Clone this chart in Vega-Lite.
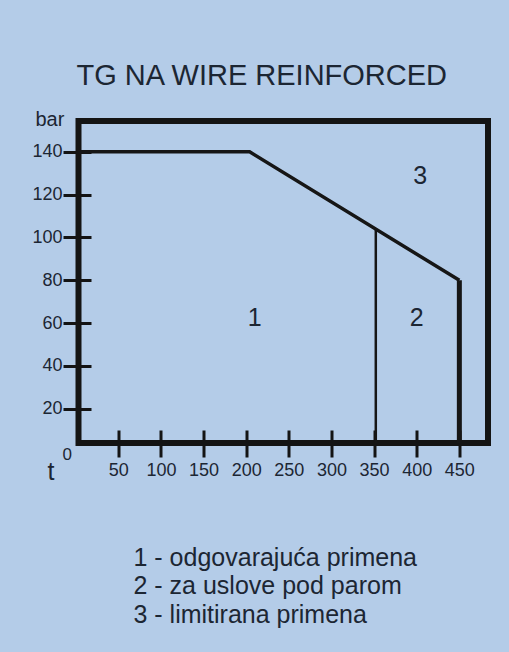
{
  "$schema": "https://vega.github.io/schema/vega-lite/v6.json",
  "width": 409.5,
  "height": 322,
  "autosize": {"type": "none"},
  "padding": {"left": 78.5, "top": 121, "right": 21, "bottom": 209},
  "background": "#b4cce8",
  "view": {"stroke": "#141414", "strokeWidth": 6},
  "config": {
    "font": "Liberation Sans",
    "axis": {"grid": false, "domain": false, "labelColor": "#1c2633", "titleColor": "#1c2633", "tickColor": "#141414", "labelFont": "Liberation Sans", "titleFont": "Liberation Sans"}
  },
  "title": {
    "text": "TG NA WIRE REINFORCED",
    "fontSize": 29,
    "fontWeight": "normal",
    "color": "#1c2633",
    "anchor": "middle",
    "dx": -21.5,
    "baseline": "alphabetic",
    "offset": -5
  },
  "datasets": {
    "profile": [
      {"t": 0, "p": 140},
      {"t": 204, "p": 140},
      {"t": 450, "p": 80}
    ],
    "regions": [
      {"label": "1", "t": 210, "p": 62.4},
      {"label": "2", "t": 400, "p": 62.4},
      {"label": "3", "t": 404, "p": 128.5}
    ]
  },
  "layer": [
    {
      "data": {"name": "profile"},
      "mark": {"type": "line", "color": "#161616", "strokeWidth": 3.5, "clip": true},
      "encoding": {
        "x": {
          "field": "t", "type": "quantitative",
          "scale": {"domain": [3.3, 483.6], "nice": false, "zero": false},
          "axis": {
            "values": [50, 100, 150, 200, 250, 300, 350, 400, 450],
            "offset": -13,
            "tickSize": 27,
            "tickWidth": 3,
            "labelFontSize": 18,
            "labelPadding": 4,
            "labelOverlap": false,
            "labelFlush": false,
            "title": ["1 - odgovarajuća primena", "2 - za uslove pod parom", "3 - limitirana primena"],
            "titleFontSize": 25,
            "titleFontWeight": "normal",
            "titleAlign": "left",
            "titleAnchor": "start",
            "titleX": 54.5,
            "titleY": 135,
            "titleBaseline": "alphabetic",
            "titleLineHeight": 28.5
          }
        },
        "y": {
          "field": "p", "type": "quantitative",
          "scale": {"domain": [4, 154.4], "nice": false, "zero": false},
          "axis": {
            "values": [20, 40, 60, 80, 100, 120, 140],
            "offset": -12.5,
            "tickSize": 28,
            "tickWidth": 3,
            "labelFontSize": 18,
            "labelPadding": 1,
            "title": "bar",
            "titleAngle": 0,
            "titleAlign": "left",
            "titleBaseline": "alphabetic",
            "titleX": -56,
            "titleY": 4,
            "titleFontSize": 20,
            "titleFontWeight": "normal"
          }
        }
      }
    },
    {
      "data": {"values": [{"t": 352, "top": 103.9, "bottom": 0}]},
      "mark": {"type": "rule", "color": "#161616", "strokeWidth": 2.5, "clip": true},
      "encoding": {
        "x": {"field": "t", "type": "quantitative"},
        "y": {"field": "top", "type": "quantitative"},
        "y2": {"field": "bottom"}
      }
    },
    {
      "data": {"values": [{"t": 450, "top": 80, "bottom": 0}]},
      "mark": {"type": "rule", "color": "#161616", "strokeWidth": 5, "clip": true},
      "encoding": {
        "x": {"field": "t", "type": "quantitative"},
        "y": {"field": "top", "type": "quantitative"},
        "y2": {"field": "bottom"}
      }
    },
    {
      "data": {"name": "regions"},
      "mark": {"type": "text", "fontSize": 25, "color": "#1c2633", "baseline": "middle", "align": "center"},
      "encoding": {
        "x": {"field": "t", "type": "quantitative"},
        "y": {"field": "p", "type": "quantitative"},
        "text": {"field": "label"}
      }
    },
    {
      "data": {"values": [{"s": "t"}]},
      "mark": {"type": "text", "fontSize": 25, "color": "#1c2633", "baseline": "alphabetic", "align": "center", "clip": false},
      "encoding": {
        "x": {"datum": -29},
        "y": {"datum": -13.3},
        "text": {"field": "s"}
      }
    },
    {
      "data": {"values": [{"s": "0"}]},
      "mark": {"type": "text", "fontSize": 17, "color": "#1c2633", "baseline": "middle", "align": "center", "clip": false},
      "encoding": {
        "x": {"datum": -10},
        "y": {"datum": -1.6},
        "text": {"field": "s"}
      }
    }
  ]
}
